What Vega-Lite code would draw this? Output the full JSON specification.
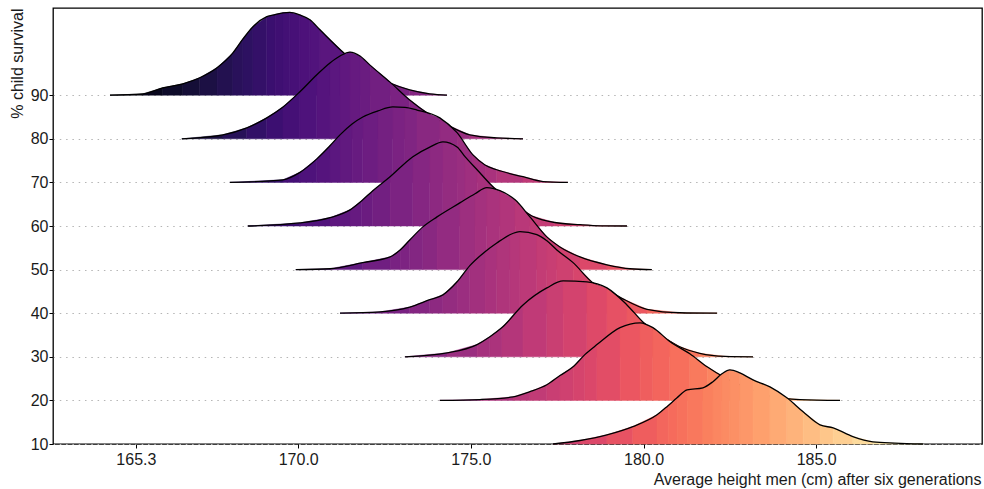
{
  "$schema": "https://vega.github.io/schema/vega-lite/v6.json",
  "width": 929,
  "height": 436,
  "autosize": "none",
  "padding": {"left": 53, "top": 8, "right": 2, "bottom": 45},
  "background": "white",
  "config": {"font": "Liberation Sans", "view": {"stroke": "black", "strokeWidth": 1.3}},
  "data": {"values": [
    {"s":90,"x":164.55,"y":90},{"s":90,"x":165.50,"y":90.3},{"s":90,"x":166.08,"y":91.7},{"s":90,"x":166.66,"y":92.6},{"s":90,"x":167.15,"y":94.0},{"s":90,"x":167.65,"y":96.3},{"s":90,"x":168.11,"y":99.7},{"s":90,"x":168.40,"y":102.9},{"s":90,"x":168.69,"y":105.7},{"s":90,"x":169.09,"y":108.0},{"s":90,"x":169.33,"y":108.5},{"s":90,"x":169.56,"y":108.9},{"s":90,"x":169.76,"y":109.0},{"s":90,"x":170.05,"y":108.4},{"s":90,"x":170.34,"y":107.3},{"s":90,"x":170.63,"y":105.0},{"s":90,"x":171.35,"y":99.5},{"s":90,"x":172.02,"y":95.6},{"s":90,"x":172.66,"y":92.8},{"s":90,"x":173.23,"y":91.2},{"s":90,"x":173.81,"y":90.3},{"s":90,"x":174.31,"y":90},
    {"s":80,"x":166.63,"y":80},{"s":80,"x":167.82,"y":80.9},{"s":80,"x":168.51,"y":82.5},{"s":80,"x":169.09,"y":84.8},{"s":80,"x":169.56,"y":87.3},{"s":80,"x":170.05,"y":90.8},{"s":80,"x":170.54,"y":94.7},{"s":80,"x":170.92,"y":97.4},{"s":80,"x":171.21,"y":99.0},{"s":80,"x":171.50,"y":99.9},{"s":80,"x":171.79,"y":99.0},{"s":80,"x":172.08,"y":96.9},{"s":80,"x":172.66,"y":93.0},{"s":80,"x":173.23,"y":88.9},{"s":80,"x":173.81,"y":85.5},{"s":80,"x":174.31,"y":83.2},{"s":80,"x":174.97,"y":80.9},{"s":80,"x":175.75,"y":80.2},{"s":80,"x":176.51,"y":80},
    {"s":70,"x":168.02,"y":70},{"s":70,"x":169.56,"y":70.6},{"s":70,"x":170.05,"y":72.3},{"s":70,"x":170.54,"y":75.4},{"s":70,"x":170.92,"y":78.4},{"s":70,"x":171.21,"y":80.9},{"s":70,"x":171.56,"y":83.4},{"s":70,"x":171.87,"y":85.0},{"s":70,"x":172.31,"y":86.4},{"s":70,"x":172.74,"y":87.3},{"s":70,"x":173.09,"y":87.2},{"s":70,"x":173.44,"y":86.6},{"s":70,"x":174.10,"y":84.8},{"s":70,"x":174.60,"y":81.4},{"s":70,"x":175.06,"y":76.3},{"s":70,"x":175.41,"y":74.0},{"s":70,"x":175.75,"y":72.9},{"s":70,"x":176.51,"y":71.3},{"s":70,"x":177.09,"y":70.2},{"s":70,"x":177.81,"y":70},
    {"s":60,"x":168.54,"y":60},{"s":60,"x":170.05,"y":60.7},{"s":60,"x":170.92,"y":61.9},{"s":60,"x":171.50,"y":63.7},{"s":60,"x":171.84,"y":65.8},{"s":60,"x":172.16,"y":68.1},{"s":60,"x":172.66,"y":71.3},{"s":60,"x":173.32,"y":75.9},{"s":60,"x":173.81,"y":78.1},{"s":60,"x":174.19,"y":79.3},{"s":60,"x":174.60,"y":78.1},{"s":60,"x":174.83,"y":75.9},{"s":60,"x":175.18,"y":72.9},{"s":60,"x":175.64,"y":69.0},{"s":60,"x":176.19,"y":65.5},{"s":60,"x":176.77,"y":62.3},{"s":60,"x":177.43,"y":60.8},{"s":60,"x":178.16,"y":60.3},{"s":60,"x":178.74,"y":60.05},{"s":60,"x":179.52,"y":60},
    {"s":50,"x":169.93,"y":50},{"s":50,"x":170.92,"y":50.2},{"s":50,"x":171.87,"y":51.6},{"s":50,"x":172.66,"y":52.9},{"s":50,"x":172.95,"y":54.5},{"s":50,"x":173.23,"y":56.8},{"s":50,"x":173.61,"y":59.8},{"s":50,"x":174.02,"y":62.1},{"s":50,"x":174.68,"y":65.3},{"s":50,"x":175.12,"y":67.4},{"s":50,"x":175.46,"y":68.8},{"s":50,"x":175.84,"y":68.1},{"s":50,"x":176.28,"y":66.0},{"s":50,"x":176.71,"y":62.1},{"s":50,"x":177.20,"y":57.5},{"s":50,"x":177.58,"y":55.2},{"s":50,"x":178.16,"y":52.9},{"s":50,"x":178.94,"y":51.1},{"s":50,"x":179.61,"y":50.2},{"s":50,"x":180.24,"y":50},
    {"s":40,"x":171.21,"y":40},{"s":40,"x":172.37,"y":40.3},{"s":40,"x":173.23,"y":41.4},{"s":40,"x":173.81,"y":43.1},{"s":40,"x":174.19,"y":44.2},{"s":40,"x":174.60,"y":47.2},{"s":40,"x":174.97,"y":50.9},{"s":40,"x":175.41,"y":54.1},{"s":40,"x":175.75,"y":56.1},{"s":40,"x":176.13,"y":58.0},{"s":40,"x":176.42,"y":58.7},{"s":40,"x":176.91,"y":58.0},{"s":40,"x":177.20,"y":56.6},{"s":40,"x":177.49,"y":54.5},{"s":40,"x":177.96,"y":51.6},{"s":40,"x":178.53,"y":47.0},{"s":40,"x":178.94,"y":45.4},{"s":40,"x":179.40,"y":43.3},{"s":40,"x":180.10,"y":40.9},{"s":40,"x":181.05,"y":40.1},{"s":40,"x":182.13,"y":40},
    {"s":30,"x":173.09,"y":30},{"s":30,"x":174.31,"y":30.9},{"s":30,"x":175.18,"y":32.8},{"s":30,"x":175.55,"y":34.6},{"s":30,"x":175.90,"y":36.7},{"s":30,"x":176.51,"y":41.9},{"s":30,"x":177.20,"y":45.8},{"s":30,"x":177.67,"y":47.4},{"s":30,"x":178.36,"y":47.2},{"s":30,"x":178.94,"y":45.8},{"s":30,"x":179.52,"y":41.9},{"s":30,"x":179.98,"y":38.0},{"s":30,"x":180.56,"y":34.6},{"s":30,"x":181.05,"y":32.3},{"s":30,"x":181.63,"y":30.8},{"s":30,"x":182.36,"y":30.1},{"s":30,"x":183.17,"y":30},
    {"s":20,"x":174.10,"y":20},{"s":20,"x":175.26,"y":20.2},{"s":20,"x":176.22,"y":20.8},{"s":20,"x":176.71,"y":22.0},{"s":20,"x":177.20,"y":23.6},{"s":20,"x":177.58,"y":25.7},{"s":20,"x":177.96,"y":27.7},{"s":20,"x":178.30,"y":30.5},{"s":20,"x":178.65,"y":32.8},{"s":20,"x":179.32,"y":36.7},{"s":20,"x":179.90,"y":37.8},{"s":20,"x":180.27,"y":36.7},{"s":20,"x":180.76,"y":33.5},{"s":20,"x":181.34,"y":30.7},{"s":20,"x":181.84,"y":27.7},{"s":20,"x":182.36,"y":25.2},{"s":20,"x":182.94,"y":23.1},{"s":20,"x":183.75,"y":20.8},{"s":20,"x":184.53,"y":20.2},{"s":20,"x":185.69,"y":20},
    {"s":10,"x":177.38,"y":10},{"s":10,"x":178.16,"y":10.8},{"s":10,"x":178.94,"y":12.1},{"s":10,"x":179.69,"y":14.0},{"s":10,"x":180.39,"y":16.7},{"s":10,"x":180.71,"y":18.8},{"s":10,"x":180.97,"y":20.6},{"s":10,"x":181.26,"y":22.4},{"s":10,"x":181.72,"y":22.9},{"s":10,"x":182.01,"y":24.3},{"s":10,"x":182.27,"y":26.1},{"s":10,"x":182.50,"y":27.0},{"s":10,"x":182.79,"y":26.3},{"s":10,"x":183.17,"y":24.7},{"s":10,"x":183.66,"y":23.1},{"s":10,"x":184.15,"y":20.6},{"s":10,"x":184.62,"y":17.4},{"s":10,"x":185.11,"y":14.4},{"s":10,"x":185.49,"y":13.7},{"s":10,"x":186.06,"y":11.7},{"s":10,"x":186.64,"y":10.5},{"s":10,"x":187.28,"y":10.2},{"s":10,"x":188.09,"y":10}
  ]},
  "transform": [
    {"window": [{"op": "row_number", "as": "rn"}], "groupby": ["s"], "sort": [{"field": "x", "order": "ascending"}]},
    {"window": [{"op": "lag", "field": "rn", "as": "rp"}], "groupby": ["s"], "sort": [{"field": "x", "order": "ascending"}]},
    {"fold": ["rn", "rp"], "as": ["k", "band"]},
    {"filter": "isValid(datum.band)"},
    {"joinaggregate": [{"op": "mean", "field": "x", "as": "bx"}], "groupby": ["s", "band"]}
  ],
  "encoding": {
    "x": {"field": "x", "type": "quantitative",
      "scale": {"domain": [162.9, 189.8], "nice": false, "zero": false},
      "axis": {"values": [165.3, 170, 175, 180, 185], "format": ".1f", "title": "Average height men (cm) after six generations",
        "grid": false, "domain": false, "tickSize": 4, "tickColor": "black", "labelPadding": 3, "labelFontSize": 16, "labelColor": "#1a1a1a",
        "titleFontSize": 16, "titleFontWeight": "normal", "titleColor": "#1a1a1a", "titleX": 928, "titleY": 40, "titleAlign": "right", "titleBaseline": "alphabetic"}},
    "y": {"field": "y", "type": "quantitative",
      "scale": {"domain": [10, 110], "nice": false, "zero": false},
      "axis": {"values": [10, 20, 30, 40, 50, 60, 70, 80, 90], "title": "% child survival",
        "grid": true, "gridDash": [1.5, 4.8], "gridColor": "#b5b5b5", "gridWidth": 1.2, "domain": false,
        "tickSize": 4, "tickColor": "black", "labelPadding": 1, "labelFontSize": 16, "labelColor": "#1a1a1a",
        "titleFontSize": 16, "titleFontWeight": "normal", "titleColor": "#1a1a1a", "titleX": -31, "titleY": 0, "titleAngle": -90, "titleAlign": "right", "titleBaseline": "alphabetic"}}
  },
  "layer": [
    {"transform": [{"filter": "datum.s == 90"}], "mark": {"type": "area", "orient": "vertical", "strokeWidth": 0.5}, "encoding": {"y2": {"field": "s"}, "color": {"field": "bx", "type": "quantitative", "scale": {"scheme": "magma", "domain": [164.55, 188.09]}, "legend": null}, "stroke": {"field": "bx", "type": "quantitative", "scale": {"scheme": "magma", "domain": [164.55, 188.09]}, "legend": null}, "detail": {"field": "band"}}},
    {"transform": [{"filter": "datum.s == 90"}], "mark": {"type": "line", "color": "black", "strokeWidth": 1.3, "interpolate": "monotone"}, "encoding": {}},
    {"transform": [{"filter": "datum.s == 80"}], "mark": {"type": "area", "orient": "vertical", "strokeWidth": 0.5}, "encoding": {"y2": {"field": "s"}, "color": {"field": "bx", "type": "quantitative", "scale": {"scheme": "magma", "domain": [164.55, 188.09]}, "legend": null}, "stroke": {"field": "bx", "type": "quantitative", "scale": {"scheme": "magma", "domain": [164.55, 188.09]}, "legend": null}, "detail": {"field": "band"}}},
    {"transform": [{"filter": "datum.s == 80"}], "mark": {"type": "line", "color": "black", "strokeWidth": 1.3, "interpolate": "monotone"}, "encoding": {}},
    {"transform": [{"filter": "datum.s == 70"}], "mark": {"type": "area", "orient": "vertical", "strokeWidth": 0.5}, "encoding": {"y2": {"field": "s"}, "color": {"field": "bx", "type": "quantitative", "scale": {"scheme": "magma", "domain": [164.55, 188.09]}, "legend": null}, "stroke": {"field": "bx", "type": "quantitative", "scale": {"scheme": "magma", "domain": [164.55, 188.09]}, "legend": null}, "detail": {"field": "band"}}},
    {"transform": [{"filter": "datum.s == 70"}], "mark": {"type": "line", "color": "black", "strokeWidth": 1.3, "interpolate": "monotone"}, "encoding": {}},
    {"transform": [{"filter": "datum.s == 60"}], "mark": {"type": "area", "orient": "vertical", "strokeWidth": 0.5}, "encoding": {"y2": {"field": "s"}, "color": {"field": "bx", "type": "quantitative", "scale": {"scheme": "magma", "domain": [164.55, 188.09]}, "legend": null}, "stroke": {"field": "bx", "type": "quantitative", "scale": {"scheme": "magma", "domain": [164.55, 188.09]}, "legend": null}, "detail": {"field": "band"}}},
    {"transform": [{"filter": "datum.s == 60"}], "mark": {"type": "line", "color": "black", "strokeWidth": 1.3, "interpolate": "monotone"}, "encoding": {}},
    {"transform": [{"filter": "datum.s == 50"}], "mark": {"type": "area", "orient": "vertical", "strokeWidth": 0.5}, "encoding": {"y2": {"field": "s"}, "color": {"field": "bx", "type": "quantitative", "scale": {"scheme": "magma", "domain": [164.55, 188.09]}, "legend": null}, "stroke": {"field": "bx", "type": "quantitative", "scale": {"scheme": "magma", "domain": [164.55, 188.09]}, "legend": null}, "detail": {"field": "band"}}},
    {"transform": [{"filter": "datum.s == 50"}], "mark": {"type": "line", "color": "black", "strokeWidth": 1.3, "interpolate": "monotone"}, "encoding": {}},
    {"transform": [{"filter": "datum.s == 40"}], "mark": {"type": "area", "orient": "vertical", "strokeWidth": 0.5}, "encoding": {"y2": {"field": "s"}, "color": {"field": "bx", "type": "quantitative", "scale": {"scheme": "magma", "domain": [164.55, 188.09]}, "legend": null}, "stroke": {"field": "bx", "type": "quantitative", "scale": {"scheme": "magma", "domain": [164.55, 188.09]}, "legend": null}, "detail": {"field": "band"}}},
    {"transform": [{"filter": "datum.s == 40"}], "mark": {"type": "line", "color": "black", "strokeWidth": 1.3, "interpolate": "monotone"}, "encoding": {}},
    {"transform": [{"filter": "datum.s == 30"}], "mark": {"type": "area", "orient": "vertical", "strokeWidth": 0.5}, "encoding": {"y2": {"field": "s"}, "color": {"field": "bx", "type": "quantitative", "scale": {"scheme": "magma", "domain": [164.55, 188.09]}, "legend": null}, "stroke": {"field": "bx", "type": "quantitative", "scale": {"scheme": "magma", "domain": [164.55, 188.09]}, "legend": null}, "detail": {"field": "band"}}},
    {"transform": [{"filter": "datum.s == 30"}], "mark": {"type": "line", "color": "black", "strokeWidth": 1.3, "interpolate": "monotone"}, "encoding": {}},
    {"transform": [{"filter": "datum.s == 20"}], "mark": {"type": "area", "orient": "vertical", "strokeWidth": 0.5}, "encoding": {"y2": {"field": "s"}, "color": {"field": "bx", "type": "quantitative", "scale": {"scheme": "magma", "domain": [164.55, 188.09]}, "legend": null}, "stroke": {"field": "bx", "type": "quantitative", "scale": {"scheme": "magma", "domain": [164.55, 188.09]}, "legend": null}, "detail": {"field": "band"}}},
    {"transform": [{"filter": "datum.s == 20"}], "mark": {"type": "line", "color": "black", "strokeWidth": 1.3, "interpolate": "monotone"}, "encoding": {}},
    {"transform": [{"filter": "datum.s == 10"}], "mark": {"type": "area", "orient": "vertical", "strokeWidth": 0.5}, "encoding": {"y2": {"field": "s"}, "color": {"field": "bx", "type": "quantitative", "scale": {"scheme": "magma", "domain": [164.55, 188.09]}, "legend": null}, "stroke": {"field": "bx", "type": "quantitative", "scale": {"scheme": "magma", "domain": [164.55, 188.09]}, "legend": null}, "detail": {"field": "band"}}},
    {"transform": [{"filter": "datum.s == 10"}], "mark": {"type": "line", "color": "black", "strokeWidth": 1.3, "interpolate": "monotone"}, "encoding": {}}
  ]
}
